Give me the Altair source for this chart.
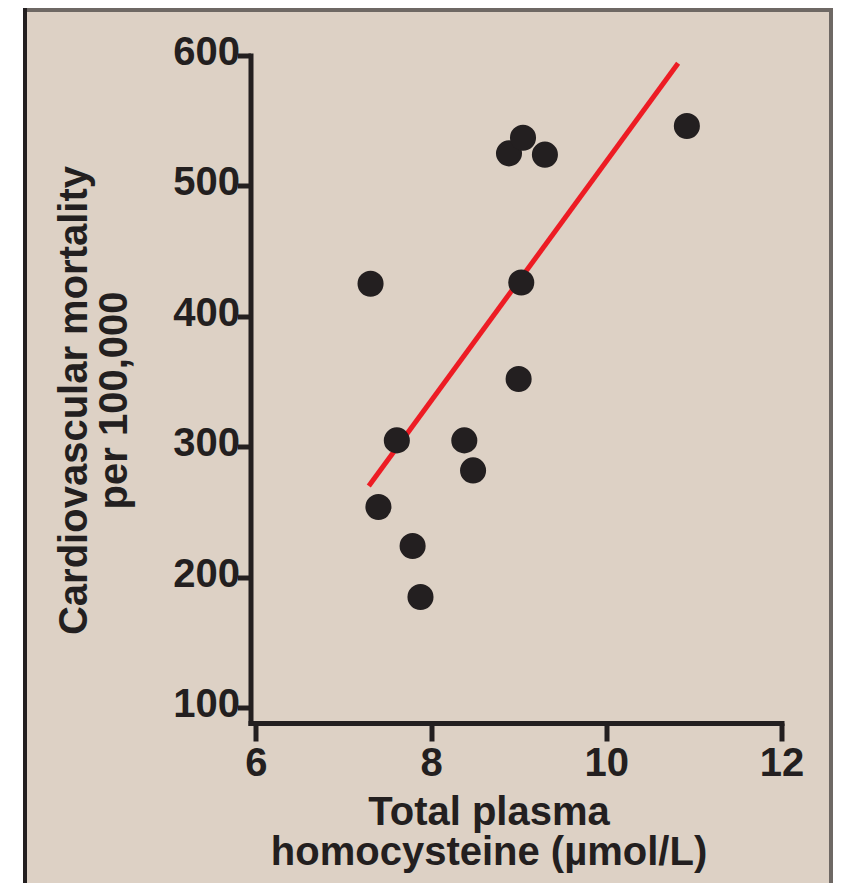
import altair as alt
import pandas as pd

# Data
hcy = [7.31, 7.40, 7.61, 7.79, 7.88, 8.38, 8.48, 8.89, 9.05, 9.30, 9.03, 9.00, 10.92]
mortality = [425, 254, 305, 224, 185, 305, 282, 525, 537, 524, 426, 352, 546]
fit_hcy = [7.29, 10.82]
fit_mortality = [270, 594]

x_ticks = [6, 8, 10, 12]
y_ticks = [100, 200, 300, 400, 500, 600]

x_title = ["Total plasma", "homocysteine (\u00b5mol/L)"]
y_title = ["Cardiovascular mortality", "per 100,000"]

INK = "#231f20"
FONT = "Liberation Sans"

points_df = pd.DataFrame({"hcy": hcy, "mort": mortality})
fit_df = pd.DataFrame({"hcy": fit_hcy, "mort": fit_mortality})

x_enc = alt.X(
    "hcy:Q",
    scale=alt.Scale(domain=[5.94, 12], nice=False, zero=False),
    axis=alt.Axis(
        values=x_ticks, title=x_title, grid=False, zindex=1,
        domainColor=INK, domainWidth=5, domainCap="square",
        tickColor=INK, tickWidth=5, tickSize=18,
        labelFont=FONT, labelFontSize=40, labelFontWeight="bold", labelColor=INK,
        labelPadding=2, labelFlush=False, labelOverlap=False,
        titleFont=FONT, titleFontSize=40, titleFontWeight="bold", titleColor=INK,
        titleX=238, titleY=101, titleAlign="center", titleBaseline="alphabetic",
        titleLineHeight=40,
    ),
)
y_enc = alt.Y(
    "mort:Q",
    scale=alt.Scale(domain=[88.4, 600], nice=False, zero=False),
    axis=alt.Axis(
        values=y_ticks, title=y_title, grid=False, zindex=1,
        domainColor=INK, domainWidth=5, domainCap="square",
        tickColor=INK, tickWidth=5, tickSize=13,
        labelFont=FONT, labelFontSize=40, labelFontWeight="bold", labelColor=INK,
        labelPadding=-2, labelFlush=False, labelOverlap=False,
        labelBaseline="middle", labelOffset=-3,
        titleFont=FONT, titleFontSize=40, titleFontWeight="bold", titleColor=INK,
        titleAngle=270, titleX=-164.5, titleY=344.5, titleAlign="center",
        titleBaseline="alphabetic", titleLineHeight=40,
    ),
)

# decorative panel frame (beige board with grey border, bottom edge cut off)
frame = alt.Chart(alt.Data(values=[{}])).mark_rect(
    fill="#ddd1c5", stroke="#6e6864", strokeWidth=4
).encode(
    x=alt.value(-225.5), x2=alt.value(580.5),
    y=alt.value(-45.5), y2=alt.value(840),
)
left_edge = alt.Chart(alt.Data(values=[{}])).mark_rule(
    color=INK, strokeWidth=4
).encode(
    x=alt.value(-225.5), y=alt.value(-47.5), y2=alt.value(840)
)

fit_line = alt.Chart(fit_df).mark_line(
    color="#ed1c24", strokeWidth=5, strokeCap="butt"
).encode(x=x_enc, y=y_enc)

points = alt.Chart(points_df).mark_circle(
    color=INK, size=680, opacity=1
).encode(x=x_enc, y=y_enc)

chart = alt.layer(frame, left_edge, fit_line, points).properties(
    width=531,
    height=667.5,
    padding={"left": 242.5, "top": 47.5, "right": 51.5, "bottom": 160},
    autosize=alt.AutoSizeParams(type="none"),
    background="white",
).configure_view(strokeWidth=0)

chart.save("out.html", embed_options={"renderer": "svg", "actions": False})
